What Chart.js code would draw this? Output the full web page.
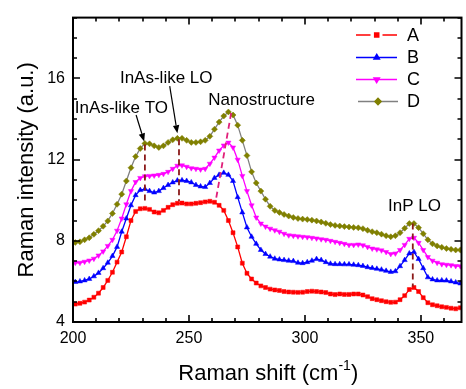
<!DOCTYPE html>
<html><head><meta charset="utf-8">
<script src="https://cdn.jsdelivr.net/npm/chart.js@4/dist/chart.umd.min.js"></script>
<style>html,body{margin:0;padding:0;background:#fff}#wrap{width:466px;height:389px}</style>
</head><body><div id="wrap"><canvas id="c" width="466" height="389"></canvas></div>
<script>
// ---- data ----
const shifts = [201,203,205,207,209,211,213,215,217,219,221,223,225,227,229,231,233,235,237,239,241,243,245,247,249,251,253,255,257,259,261,263,265,267,269,271,273,275,277,279,281,283,285,287,289,291,293,295,297,299,301,303,305,307,309,311,313,315,317,319,321,323,325,327,329,331,333,335,337,339,341,343,345,347,349,351,353,355,357,359,361,363,365,367];
const seriesA = [4.88,4.92,4.98,5.08,5.22,5.42,5.7,6.05,6.45,6.95,7.45,8.2,9.0,9.45,9.58,9.6,9.55,9.42,9.38,9.5,9.65,9.78,9.85,9.86,9.82,9.82,9.85,9.88,9.92,9.95,9.9,9.75,9.5,9.0,8.4,7.7,6.9,6.4,6.12,5.92,5.78,5.7,5.62,5.58,5.55,5.5,5.48,5.47,5.46,5.47,5.5,5.52,5.5,5.48,5.45,5.38,5.35,5.38,5.36,5.36,5.38,5.38,5.33,5.25,5.15,5.1,5.05,5.0,4.97,4.98,5.1,5.3,5.6,5.7,5.5,5.2,4.95,4.85,4.8,4.75,4.72,4.68,4.65,4.7];
const seriesB = [5.97,6.0,6.05,6.12,6.25,6.42,6.65,6.92,7.25,7.7,8.45,9.1,9.75,10.25,10.5,10.55,10.45,10.38,10.45,10.6,10.75,10.88,10.97,10.98,10.95,10.88,10.75,10.68,10.65,10.85,11.1,11.25,11.35,11.25,10.95,10.15,9.4,8.66,8.2,7.85,7.55,7.35,7.22,7.12,7.08,7.05,7.02,7.0,6.92,6.9,6.95,7.02,7.1,7.05,6.95,6.87,6.85,6.85,6.84,6.84,6.82,6.8,6.76,6.7,6.66,6.62,6.58,6.52,6.47,6.5,6.75,7.05,7.38,7.45,7.1,6.65,6.2,6.1,6.05,6.05,6.04,6.0,5.95,5.9];
const seriesC = [6.92,6.92,6.97,7.03,7.12,7.28,7.48,7.75,8.05,8.5,9.1,9.8,10.45,10.9,11.1,11.18,11.2,11.22,11.25,11.3,11.4,11.55,11.7,11.72,11.65,11.58,11.55,11.52,11.55,11.8,12.1,12.45,12.7,12.84,12.6,12.0,11.2,10.45,9.75,9.15,8.85,8.7,8.6,8.52,8.45,8.35,8.27,8.25,8.22,8.2,8.18,8.15,8.12,8.08,8.05,8.0,7.95,7.9,7.85,7.8,7.8,7.82,7.78,7.7,7.62,7.58,7.53,7.45,7.35,7.38,7.55,7.8,8.1,8.15,7.9,7.55,7.2,7.02,6.92,6.85,6.82,6.8,6.76,6.75];
const seriesD = [7.92,7.95,8.05,8.15,8.32,8.5,8.72,8.98,9.35,9.8,10.3,10.95,11.6,12.15,12.55,12.8,12.78,12.68,12.6,12.68,12.85,12.98,13.05,13.05,12.95,12.85,12.85,12.88,12.95,13.15,13.5,13.85,14.15,14.35,14.2,13.7,12.95,12.2,11.4,10.85,10.45,10.05,9.7,9.5,9.4,9.3,9.22,9.15,9.1,9.07,9.05,9.02,8.98,8.93,8.86,8.8,8.76,8.73,8.7,8.68,8.66,8.64,8.6,8.52,8.45,8.4,8.33,8.25,8.2,8.25,8.4,8.62,8.85,8.85,8.65,8.35,8.05,7.85,7.75,7.68,7.62,7.58,7.55,7.55];
const seriesNames = ['A','B','C','D'];
const xTickLabels = [200,250,300,350];
const yTickLabels = [4,8,12,16];
const xMinorStep = 10, yMinorStep = 1;
const xRange = [200, 367.5], yRange = [4, 19];
// peak markers (data coordinates)
const peakLines = [
  {x1:231, y1:12.75, x2:231, y2:9.95, color:'#8B1A1A'},
  {x1:245.7, y1:13.0, x2:245.7, y2:9.95, color:'#8B1A1A'},
  {x1:268.2, y1:14.3, x2:261.5, y2:9.95, color:'#E0207A'},
  {x1:346.5, y1:8.85, x2:346.5, y2:5.75, color:'#8B1A1A'}
];
const labels = [
  {text:'InAs-like TO', x:220.9, y:14.54},
  {text:'InAs-like LO', x:240.2, y:16.0},
  {text:'Nanostructure', x:281.3, y:14.92},
  {text:'InP LO', x:347.2, y:9.68}
];
const arrows = [
  {x1:227.2, y1:14.2, x2:230.7, y2:12.9},
  {x1:241.7, y1:15.62, x2:245.0, y2:13.3}
];

const FONT = "'Liberation Sans', Arial, sans-serif";
const toPts = ys => shifts.map((x,i)=>({x, y: ys[i]}));

const styles = [
  {color:'#FF0000', line:'#FF0000', pointStyle:'rect', radius:2.8, rotation:0},
  {color:'#0000FF', line:'#0000FF', pointStyle:'triangle', radius:3, rotation:0},
  {color:'#FF00FF', line:'#FF00FF', pointStyle:'triangle', radius:3, rotation:180},
  {color:'#808000', line:'#808080', pointStyle:'rectRot', radius:3, rotation:0}
];
const allSeries = [seriesA, seriesB, seriesC, seriesD];

const datasets = allSeries.map((s,i)=>({
  label: seriesNames[i],
  data: toPts(s),
  borderColor: styles[i].line,
  backgroundColor: styles[i].color,
  pointBackgroundColor: styles[i].color,
  pointBorderColor: styles[i].color,
  pointBorderWidth: 0.5,
  pointStyle: styles[i].pointStyle,
  pointRotation: styles[i].rotation,
  pointRadius: styles[i].radius,
  borderWidth: 1.3,
  tension: 0
}));

const framePlugin = {
  id:'frame',
  afterDatasetsDraw(chart){
    const {ctx, chartArea:a, scales:{x, y}} = chart;
    ctx.save();
    // peak lines
    ctx.lineWidth = 1.8;
    ctx.setLineDash([6,4]);
    peakLines.forEach(p=>{
      ctx.strokeStyle = p.color;
      ctx.beginPath();
      ctx.moveTo(x.getPixelForValue(p.x1), y.getPixelForValue(p.y1));
      ctx.lineTo(x.getPixelForValue(p.x2), y.getPixelForValue(p.y2));
      ctx.stroke();
    });
    ctx.setLineDash([]);
    // arrows
    ctx.strokeStyle = '#000'; ctx.fillStyle = '#000'; ctx.lineWidth = 1.2;
    arrows.forEach(r=>{
      const x1=x.getPixelForValue(r.x1), y1=y.getPixelForValue(r.y1);
      const x2=x.getPixelForValue(r.x2), y2=y.getPixelForValue(r.y2);
      const ang = Math.atan2(y2-y1, x2-x1);
      const L=8, W=3.2;
      const bx = x2 - L*Math.cos(ang), by = y2 - L*Math.sin(ang);
      ctx.beginPath(); ctx.moveTo(x1,y1); ctx.lineTo(bx,by); ctx.stroke();
      ctx.beginPath();
      ctx.moveTo(x2,y2);
      ctx.lineTo(bx + W*Math.sin(ang), by - W*Math.cos(ang));
      ctx.lineTo(bx - W*Math.sin(ang), by + W*Math.cos(ang));
      ctx.closePath(); ctx.fill();
    });
    // text labels
    ctx.font = '17px ' + FONT;
    ctx.textAlign = 'center'; ctx.textBaseline = 'middle';
    labels.forEach(l=>{
      ctx.fillText(l.text, x.getPixelForValue(l.x), y.getPixelForValue(l.y));
    });
    // frame
    ctx.strokeStyle = '#000'; ctx.lineWidth = 2;
    ctx.strokeRect(a.left, a.top, a.right-a.left, a.bottom-a.top);
    // inward ticks on all four sides
    ctx.lineWidth = 1.6;
    ctx.beginPath();
    for (let v = xRange[0]; v <= xRange[1]; v += xMinorStep) {
      const px = Math.round(x.getPixelForValue(v)) ;
      const len = (v % 50 === 0) ? 7 : 4;
      ctx.moveTo(px, a.bottom); ctx.lineTo(px, a.bottom - len);
      ctx.moveTo(px, a.top); ctx.lineTo(px, a.top + len);
    }
    for (let v = yRange[0]; v <= yRange[1]; v += yMinorStep) {
      const py = Math.round(y.getPixelForValue(v));
      const len = ((v - 4) % 4 === 0) ? 7 : 4;
      ctx.moveTo(a.left, py); ctx.lineTo(a.left + len, py);
      ctx.moveTo(a.right, py); ctx.lineTo(a.right - len, py);
    }
    ctx.stroke();
    // x title with superscript
    const cx = (a.left + a.right)/2 + 1, ty = 372;
    const main = 'Raman shift (cm', sup = '-1', tail = ')';
    ctx.font = '22px ' + FONT;
    const wMain = ctx.measureText(main).width, wTail = ctx.measureText(tail).width;
    ctx.font = '14px ' + FONT;
    const wSup = ctx.measureText(sup).width;
    const total = wMain + wSup + wTail;
    let sx = cx - total/2;
    ctx.textAlign = 'left'; ctx.textBaseline = 'alphabetic';
    ctx.font = '22px ' + FONT;
    ctx.fillText(main, sx, ty + 8);
    ctx.font = '14px ' + FONT;
    ctx.fillText(sup, sx + wMain, ty - 2);
    ctx.font = '22px ' + FONT;
    ctx.fillText(tail, sx + wMain + wSup, ty + 8);
    // legend
    const rows = [35, 57.5, 79.5, 101.5];
    ctx.font = '18px ' + FONT;
    ctx.textBaseline = 'middle';
    rows.forEach((ry,i)=>{
      const st = styles[i];
      ctx.strokeStyle = st.line; ctx.lineWidth = 1.6;
      ctx.beginPath();
      if (i === 0) {
        ctx.moveTo(356, ry); ctx.lineTo(370.5, ry);
        ctx.moveTo(382.5, ry); ctx.lineTo(397, ry);
      } else if (i === 3) {
        ctx.moveTo(358, ry); ctx.lineTo(398, ry);
      } else {
        ctx.moveTo(356, ry); ctx.lineTo(397, ry);
      }
      ctx.stroke();
      ctx.fillStyle = st.color; ctx.strokeStyle = st.color;
      Chart.helpers.drawPoint(ctx, {pointStyle: st.pointStyle, radius: st.radius, rotation: st.rotation, borderWidth: 0.5}, i===3?378:376.7, ry);
      ctx.fillStyle = '#000';
      ctx.fillText(seriesNames[i], 407, ry + 1);
    });
    ctx.restore();
  }
};

new Chart(document.getElementById('c'), {
  type: 'line',
  data: { datasets },
  options: {
    responsive: false,
    devicePixelRatio: 1,
    animation: false,
    layout: { padding: { left: 0, top: 5, right: 2, bottom: 0 } },
    plugins: { legend: { display: false }, tooltip: { enabled: false } },
    scales: {
      x: {
        type: 'linear', min: xRange[0], max: xRange[1],
        afterFit(s){ s.height = 67; },
        afterBuildTicks(s){ s.ticks = xTickLabels.map(v=>({value:v})); },
        grid: { display: false, drawTicks: false },
        border: { display: false },
        ticks: { padding: 7, color: '#000', font: { family: FONT, size: 16 }, maxRotation: 0 }
      },
      y: {
        type: 'linear', min: yRange[0], max: yRange[1],
        afterFit(s){ s.width = 73; },
        afterBuildTicks(s){ s.ticks = yTickLabels.map(v=>({value:v})); },
        grid: { display: false, drawTicks: false },
        border: { display: false },
        ticks: { padding: 8, color: '#000', font: { family: FONT, size: 16 } },
        title: { display: true, text: 'Raman intensity (a.u.)', color: '#000', font: { family: FONT, size: 22 }, padding: { top: 14, bottom: 0 } }
      }
    }
  },
  plugins: [framePlugin]
});
</script>
</body></html>
